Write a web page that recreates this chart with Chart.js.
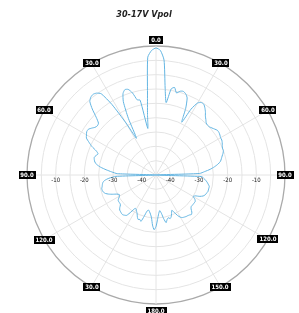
<!DOCTYPE html>
<html>
<head>
<meta charset="utf-8">
<script src="https://cdn.jsdelivr.net/npm/chart.js@4.4.1/dist/chart.umd.min.js"></script>
<style>
  html, body { margin: 0; padding: 0; background: #fff; }
  #wrap { width: 299px; height: 313px; }
</style>
</head>
<body>
<div id="wrap"><canvas id="polar" width="299" height="313"></canvas></div>
<script>
const chartTitle = '30-17V Vpol';

// angle step of the measurement, degrees
const step = 2;
const angles = Array.from({ length: 360 / step }, (_, i) => i * step);

// gain in dB, 0..358 deg, 2 deg apart (one row = 30 deg)
const gain = [
	-0.7, -1.5, -4.8, -14.5, -19.5, -14.5, -13.8, -15.5, -14.6, -14.3, -14.8, -16.0, -19.5, -24.5, -19.0,
	-16.0, -15.2, -15.2, -16.0, -17.0, -18.2, -19.0, -19.8, -20.0, -19.9, -19.5, -19.0, -18.5, -18.5, -18.7,
	-19.0, -19.0, -19.3, -19.7, -20.0, -20.0, -20.4, -21.0, -21.5, -22.0, -23.0, -24.4, -26.0, -28.0, -29.8,
	-45, -29.0, -28.3, -27.6, -27.0, -26.5, -26.0, -26.0, -26.0, -26.0, -26.3, -26.5, -27.0, -28.0, -29.5,
	-30.0, -29.0, -28.5, -28.5, -28.5, -28.5, -28.5, -28.0, -27.0, -26.5, -26.8, -27.0, -27.1, -27.3, -27.5,
	-28.0, -29.0, -30.5, -31.5, -30.5, -29.5, -29.0, -29.5, -29.0, -28.0, -29.5, -31.5, -32.5, -31.5, -29.5,
	-27.0, -25.9, -27.5, -30.0, -31.2, -32.0, -32.5, -32.0, -30.0, -28.0, -28.5, -28.3, -29.0, -30.0, -30.6,
	-31.2, -31.3, -29.5, -27.6, -27.2, -26.9, -27.0, -27.2, -27.4, -28.0, -28.8, -29.0, -29.0, -29.1, -29.6,
	-30.3, -30.5, -29.8, -28.5, -27.2, -26.2, -25.7, -25.5, -25.5, -25.8, -26.0, -26.3, -27.0, -28.5, -31.0,
	-45, -31.5, -29.5, -27.5, -25.5, -24.0, -23.2, -22.8, -22.6, -23.0, -23.5, -22.5, -20.5, -19.0, -17.5,
	-17.0, -16.5, -16.5, -17.2, -18.0, -18.3, -18.0, -16.0, -13.0, -10.5, -9.6, -9.3, -9.7, -10.8, -16.0,
	-24.0, -30.5, -23.0, -17.0, -14.3, -13.3, -13.6, -15.2, -18.0, -18.3, -28.5, -23.7, -16.6, -3.8, -1.5,
];

// spoke labels every 30 deg, as printed on the plot
const spokeAngles = [0, 30, 60, 90, 120, 150, 180, 210, 240, 270, 300, 330];
const spokeLabels = ['0.0', '30.0', '60.0', '90.0', '120.0', '150.0', '180.0', '30.0', '120.0', '90.0', '60.0', '30.0'];

// radial tick labels shown along the horizontal axis
const radialTicks = [-10, -20, -30, -40];

const overlay = {
	id: 'overlay',
	afterDraw(chart) {
		const { ctx } = chart;
		const r = chart.scales.r;
		ctx.save();

		// title
		ctx.font = 'italic bold 9px "DejaVu Sans Condensed"';
		ctx.fillStyle = '#222';
		ctx.textAlign = 'center';
		ctx.textBaseline = 'middle';
		ctx.fillText(chartTitle, 144, 15);

		// radial ticks, both sides of centre
		ctx.font = '6px "DejaVu Sans Condensed"';
		ctx.fillStyle = '#222';
		radialTicks.forEach(v => {
			const d = r.getDistanceFromCenterForValue(v);
			ctx.fillText(String(v), r.xCenter - d, r.yCenter + 5.5);
			ctx.fillText(String(v), r.xCenter + d, r.yCenter + 5.5);
		});

		// spoke labels in black boxes
		ctx.font = 'bold 6px "DejaVu Sans Condensed"';
		spokeAngles.forEach((a, k) => {
			const extra = a === 0 ? 6 : a === 180 ? 7 : 0;
			const p = r.getPointPosition(a / step, r.drawingArea + extra);
			const txt = spokeLabels[k];
			const w = Math.round(ctx.measureText(txt).width + 4);
			ctx.fillStyle = '#000';
			ctx.fillRect(Math.round(p.x - w / 2), Math.round(p.y - 4), w, 8);
			ctx.fillStyle = '#fff';
			ctx.fillText(txt, Math.round(p.x), Math.round(p.y) + 0.5);
		});
		ctx.restore();
	},
};

new Chart(document.getElementById('polar'), {
	type: 'radar',
	data: {
		labels: angles,
		datasets: [
			{
				label: chartTitle,
				data: gain,
				borderColor: '#63b5e2',
				borderWidth: 1,
				pointRadius: 0,
				fill: false,
				tension: 0.2,
			},
		],
	},
	options: {
		responsive: false,
		animation: false,
		events: [],
		layout: { padding: { left: 14, right: 0, top: 46, bottom: 9 } },
		plugins: {
			legend: { display: false },
			title: { display: false },
			tooltip: { enabled: false },
		},
		scales: {
			r: {
				min: -45,
				max: 0,
				ticks: { stepSize: 5, display: false },
				pointLabels: { display: false },
				grid: {
					circular: true,
					color: c => (c.tick && c.tick.value === 0 ? '#aaaaaa' : '#e4e4e4'),
					lineWidth: c => (c.tick && c.tick.value === 0 ? 1.3 : 1),
				},
				angleLines: {
					color: c => (angles[c.index] % 30 === 0 ? '#e4e4e4' : 'rgba(0,0,0,0)'),
					lineWidth: 1,
				},
			},
		},
	},
	plugins: [overlay],
});
</script>
</body>
</html>
